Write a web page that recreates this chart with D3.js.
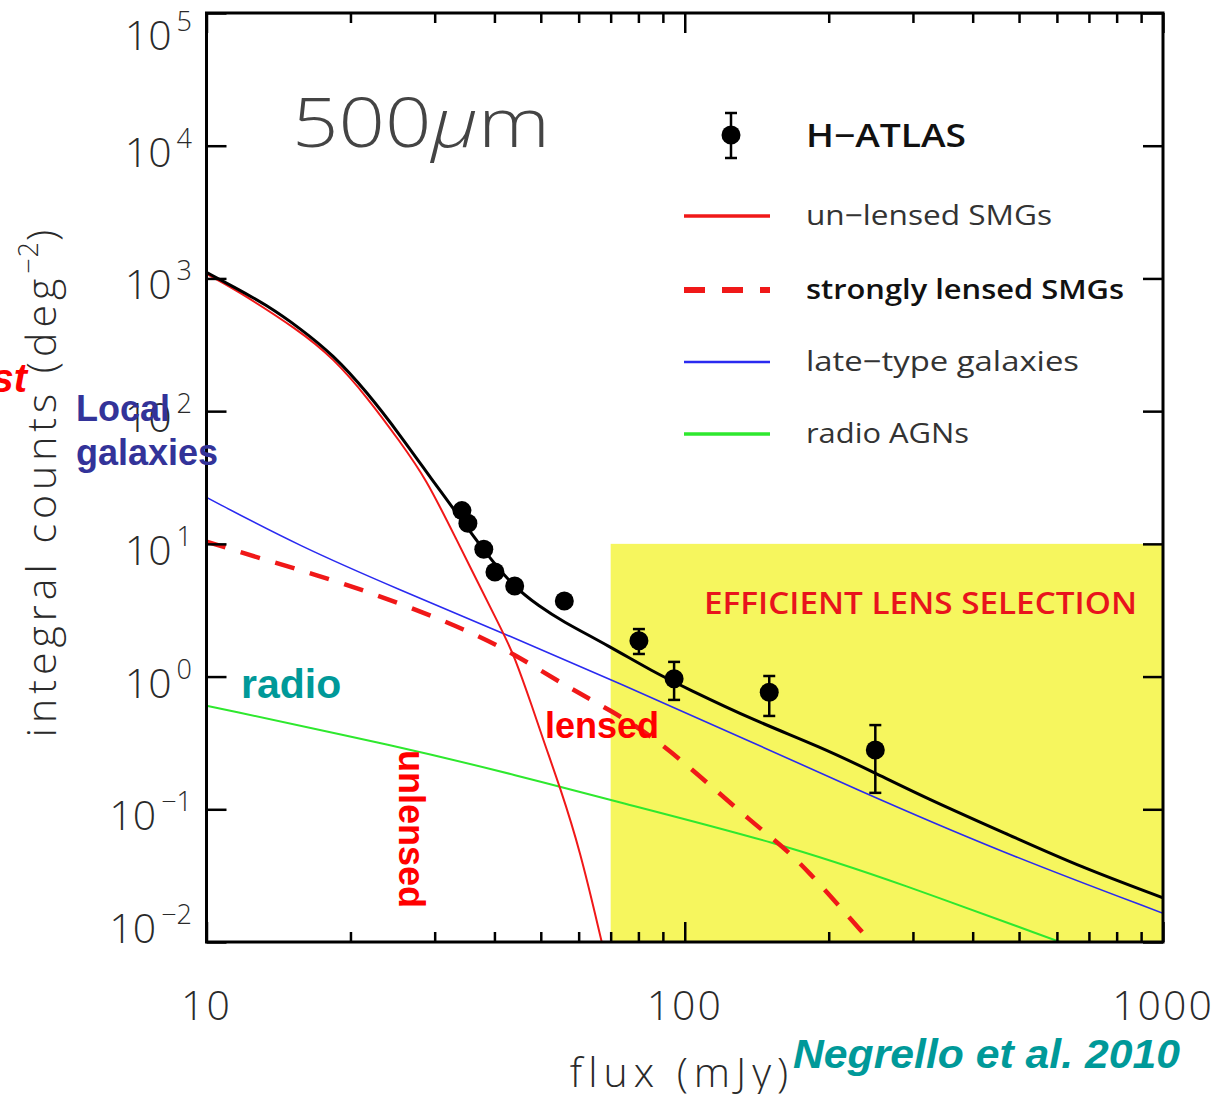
<!DOCTYPE html>
<html>
<head>
<meta charset="utf-8">
<script src="https://cdn.jsdelivr.net/npm/d3@7"></script>
<style>
  html, body { margin: 0; padding: 0; background: #fff; }
  svg { display: block; }
  .thin { font-family: "Open Sans", Lato, "DejaVu Sans", sans-serif; }
  .bold { font-family: "Liberation Sans", Arial, sans-serif; font-weight: bold; }
</style>
</head>
<body>
<svg id="chart" width="1218" height="1094"></svg>
<script>
// ---- axis ticks ----
const fluxMajorTicks = [10, 100, 1000];
const fluxMinorTicks = [20, 30, 40, 50, 60, 70, 80, 90, 200, 300, 400, 500, 600, 700, 800, 900];
const countExponents = [-2, -1, 0, 1, 2, 3, 4, 5];

// ---- H-ATLAS 500 micron integral counts ----
const hatlasFlux    = [34.2, 35.2, 38.0, 40.1, 44.1, 56.0, 80.2, 95.0, 150.2, 250.3];
const hatlasCounts  = [17.8, 14.3, 9.1, 6.14, 4.82, 3.71, 1.86, 0.964, 0.762, 0.280];
const hatlasErrLow  = [null, null, null, null, null, null, 1.48, 0.667, 0.505, 0.133];
const hatlasErrHigh = [null, null, null, null, null, null, 2.28, 1.29, 1.01, 0.431];

// ---- model curves ----
const totalFlux   = [10, 11.38, 13.36, 15.69, 18.41, 21.63, 25.39, 29.81, 32.81, 37.9, 43.8, 49.8, 54.84, 69.8, 85.8, 100.9, 138.9, 191.8, 250, 325.7, 485.8, 670.7, 1000];
const totalCounts = [1110, 867, 631, 421, 265, 140, 66.2, 29.4, 18.5, 9.0, 4.76, 3.36, 2.67, 1.68, 1.089, 0.816, 0.471, 0.296, 0.188, 0.1175, 0.0621, 0.0369, 0.0215];

const unlensedFlux   = [10, 11.38, 15.69, 18.41, 21.63, 25.39, 28.87, 32.56, 41.75, 43.8, 48.25, 50.6, 54.8, 60.4, 67.05];
const unlensedCounts = [1081, 844, 402, 250, 128.6, 58.9, 30.3, 12.7, 2.12, 1.498, 0.560, 0.333, 0.148, 0.0494, 0.01];

const lensedFlux   = [10, 12.94, 18.41, 25.39, 35.0, 43.8, 56.65, 69.8, 85.8, 105.9, 139.1, 160.7, 182.8, 207.8, 238.2, 244];
const lensedCounts = [10.4, 7.79, 5.35, 3.57, 2.24, 1.498, 0.840, 0.560, 0.352, 0.187, 0.0784, 0.0523, 0.0329, 0.0196, 0.0113, 0.01];

const lateTypeFlux   = [10, 15.69, 25.39, 41.75, 73.2, 134.8, 256, 486, 1000];
const lateTypeCounts = [22.4, 9.53, 4.49, 2.12, 0.890, 0.333, 0.1175, 0.0439, 0.01646];

const radioFlux   = [10, 25.39, 45.24, 69.8, 158.2, 281.8, 609];
const radioCounts = [0.6035, 0.296, 0.178, 0.1175, 0.0554, 0.0277, 0.01];

// ---- lens-selection region: S > 70 mJy, counts below 10 deg^-2 ----
const lensRegionFlux = [70, 1000];
const lensRegionCounts = [0.01, 10];

const legendLabels = ["H\u2212ATLAS", "un\u2212lensed SMGs", "strongly lensed SMGs", "late\u2212type galaxies", "radio AGNs"];

// ---- scales ----
const x = d3.scaleLog().domain([10, 1000]).range([206.5, 1163]);
const y = d3.scaleLog().domain([1e-2, 1e5]).range([942, 13]);

const svg = d3.select("#chart");

svg.append("defs").append("clipPath").attr("id", "plotClip")
  .append("rect")
  .attr("x", x(10)).attr("y", y(1e5))
  .attr("width", x(1000) - x(10)).attr("height", y(1e-2) - y(1e5));

// yellow selection box
svg.append("rect")
  .attr("x", x(lensRegionFlux[0])).attr("y", y(lensRegionCounts[1]))
  .attr("width", x(lensRegionFlux[1]) - x(lensRegionFlux[0]))
  .attr("height", y(lensRegionCounts[0]) - y(lensRegionCounts[1]))
  .attr("fill", "#f6f65e");

svg.append("text")
  .attr("class", "thin")
  .attr("x", 704).attr("y", 614)
  .attr("font-size", 31)
  .style("font-weight", 600)
  .attr("fill", "#e8141c")
  .attr("textLength", 433).attr("lengthAdjust", "spacingAndGlyphs")
  .text("EFFICIENT LENS SELECTION");

// ---- curves ----
const line = d3.line()
  .x(d => x(d[0])).y(d => y(d[1]))
  .curve(d3.curveBasis);

const curves = svg.append("g").attr("clip-path", "url(#plotClip)");

function drawCurve(fx, cy, color, width, dash) {
  const p = curves.append("path")
    .datum(d3.zip(fx, cy))
    .attr("d", line)
    .attr("fill", "none")
    .attr("stroke", color)
    .attr("stroke-width", width)
    .attr("stroke-linejoin", "round");
  if (dash) p.attr("stroke-dasharray", dash);
}

drawCurve(radioFlux, radioCounts, "#2ee82e", 2, null);
drawCurve(lateTypeFlux, lateTypeCounts, "#2a2af0", 1.6, null);
drawCurve(lensedFlux, lensedCounts, "#f01818", 4.5, "20,16");
drawCurve(unlensedFlux, unlensedCounts, "#f01818", 2, null);
drawCurve(totalFlux, totalCounts, "#000", 3, null);

// ---- data with error bars ----
const pts = svg.append("g");
hatlasFlux.forEach((f, i) => {
  const cx = x(f), cyv = y(hatlasCounts[i]);
  if (hatlasErrLow[i] !== null) {
    const y0 = y(hatlasErrLow[i]), y1 = y(hatlasErrHigh[i]);
    pts.append("line").attr("x1", cx).attr("x2", cx).attr("y1", y0).attr("y2", y1)
      .attr("stroke", "#000").attr("stroke-width", 2.5);
    [y0, y1].forEach(yy => pts.append("line")
      .attr("x1", cx - 6).attr("x2", cx + 6).attr("y1", yy).attr("y2", yy)
      .attr("stroke", "#000").attr("stroke-width", 2.5));
  }
  pts.append("circle").attr("cx", cx).attr("cy", cyv).attr("r", 9.5).attr("fill", "#000");
});

// ---- frame and ticks ----
const axisG = svg.append("g").attr("stroke-width", 2.5);

function tickAxis(gen, tx, ty) {
  const g = axisG.append("g").attr("transform", `translate(${tx},${ty})`).call(gen);
  g.selectAll("text").remove();
  g.select(".domain").remove();
  g.selectAll("line").attr("stroke", "#000").attr("stroke-width", 2.5);
  return g;
}

tickAxis(d3.axisBottom(x).tickValues(fluxMajorTicks).tickSize(-20), 0, y(1e-2));
tickAxis(d3.axisBottom(x).tickValues(fluxMinorTicks).tickSize(-10), 0, y(1e-2));
tickAxis(d3.axisTop(x).tickValues(fluxMajorTicks).tickSize(-20), 0, y(1e5));
tickAxis(d3.axisTop(x).tickValues(fluxMinorTicks).tickSize(-10), 0, y(1e5));
const countTickValues = countExponents.map(e => Math.pow(10, e));
tickAxis(d3.axisLeft(y).tickValues(countTickValues).tickSize(-20), x(10), 0);
tickAxis(d3.axisRight(y).tickValues(countTickValues).tickSize(-20), x(1000), 0);

axisG.append("rect")
  .attr("x", x(10)).attr("y", y(1e5))
  .attr("width", x(1000) - x(10)).attr("height", y(1e-2) - y(1e5))
  .attr("fill", "none").attr("stroke", "#000").attr("stroke-width", 3);

// ---- tick labels ----
const labelColor = "#2a2a2a";
countExponents.forEach((e, i) => {
  let off = 21;
  if (i === 0) off = 1;
  if (i === countExponents.length - 1) off = 37;
  const t = svg.append("text").attr("class", "thin")
    .attr("x", 192).attr("y", y(Math.pow(10, e)) + off)
    .attr("text-anchor", "end").attr("fill", labelColor)
    .attr("font-size", 41).style("font-weight", 300);
  t.append("tspan").text("10");
  t.append("tspan").attr("dx", 5).attr("dy", -19).attr("font-size", 27)
    .text(e < 0 ? "\u2212" + Math.abs(e) : String(e));
});

fluxMajorTicks.forEach(v => {
  svg.append("text").attr("class", "thin")
    .attr("x", x(v)).attr("y", 1020)
    .attr("text-anchor", "middle").attr("fill", labelColor)
    .attr("font-size", 41).attr("letter-spacing", 2).style("font-weight", 300)
    .text(String(v));
});

// axis titles
svg.append("text").attr("class", "thin")
  .attr("x", 682).attr("y", 1087)
  .attr("text-anchor", "middle").attr("fill", labelColor)
  .attr("font-size", 41).attr("letter-spacing", 6).style("font-weight", 300)
  .text("flux (mJy)");

const yTitle = svg.append("text").attr("class", "thin")
  .attr("transform", "translate(56,481) rotate(-90)")
  .attr("text-anchor", "middle").attr("fill", labelColor)
  .attr("font-size", 41).attr("letter-spacing", 5).style("font-weight", 300);
yTitle.append("tspan").text("integral counts (deg");
yTitle.append("tspan").attr("dy", -18).attr("font-size", 27).attr("letter-spacing", 1).text("\u22122");
yTitle.append("tspan").attr("dy", 18).text(")");

// band label
const band = svg.append("text").attr("class", "thin")
  .attr("x", 292).attr("y", 147)
  .attr("fill", "#444").attr("font-size", 68).style("font-weight", 300)
  .attr("textLength", 258).attr("lengthAdjust", "spacingAndGlyphs");
band.append("tspan").text("500");
band.append("tspan").attr("font-style", "italic").text("\u03bc");
band.append("tspan").text("m");

// ---- legend ----
const lg = svg.append("g");
const lx0 = 684, lx1 = 770, ltx = 806;
// H-ATLAS marker
lg.append("line").attr("x1", 731).attr("x2", 731).attr("y1", 113).attr("y2", 158)
  .attr("stroke", "#000").attr("stroke-width", 2.5);
[113, 158].forEach(yy => lg.append("line").attr("x1", 725).attr("x2", 737)
  .attr("y1", yy).attr("y2", yy).attr("stroke", "#000").attr("stroke-width", 2.5));
lg.append("circle").attr("cx", 731).attr("cy", 135).attr("r", 9.5).attr("fill", "#000");
lg.append("text").attr("class", "thin")
  .attr("x", ltx).attr("y", 147).attr("font-size", 32).style("font-weight", 600)
  .attr("fill", "#111").attr("textLength", 160).attr("lengthAdjust", "spacingAndGlyphs")
  .text(legendLabels[0]);

const legendRows = [
  { label: legendLabels[1], y: 216, color: "#f01818", w: 3.5, dash: null, len: 246, fw: 400, tc: "#333" },
  { label: legendLabels[2], y: 290, color: "#f01818", w: 6, dash: "21,17", len: 318, fw: 600, tc: "#111" },
  { label: legendLabels[3], y: 362, color: "#2a2af0", w: 2.5, dash: null, len: 273, fw: 400, tc: "#333" },
  { label: legendLabels[4], y: 434, color: "#2ee82e", w: 3.5, dash: null, len: 163, fw: 400, tc: "#333" }
];
legendRows.forEach(r => {
  const l = lg.append("line").attr("x1", lx0).attr("x2", lx1).attr("y1", r.y).attr("y2", r.y)
    .attr("stroke", r.color).attr("stroke-width", r.w);
  if (r.dash) l.attr("stroke-dasharray", r.dash);
  lg.append("text").attr("class", "thin")
    .attr("x", ltx).attr("y", r.y + 9).attr("font-size", 27).style("font-weight", r.fw)
    .attr("fill", r.tc).attr("textLength", r.len).attr("lengthAdjust", "spacingAndGlyphs")
    .text(r.label);
});

// ---- annotations ----
const ann = svg.append("g").attr("class", "bold");
ann.append("text").attr("x", 27).attr("y", 392).attr("text-anchor", "end")
  .attr("font-size", 40).attr("font-style", "italic").attr("fill", "#ff0000").text("st");
ann.append("text").attr("x", 76).attr("y", 421).attr("font-size", 36).attr("fill", "#333399").text("Local");
ann.append("text").attr("x", 76).attr("y", 465).attr("font-size", 36).attr("fill", "#333399").text("galaxies");
ann.append("text").attr("x", 241).attr("y", 698).attr("font-size", 41).attr("fill", "#009999").text("radio");
ann.append("text").attr("x", 545).attr("y", 738).attr("font-size", 36).attr("fill", "#ff0000").text("lensed");
ann.append("text").attr("transform", "translate(399,750) rotate(90)")
  .attr("font-size", 36).attr("fill", "#ff0000").text("unlensed");
ann.append("text").attr("x", 793).attr("y", 1068).attr("font-size", 40).attr("font-style", "italic")
  .attr("fill", "#009999").attr("textLength", 387).attr("lengthAdjust", "spacingAndGlyphs")
  .text("Negrello et al. 2010");
</script>
</body>
</html>
